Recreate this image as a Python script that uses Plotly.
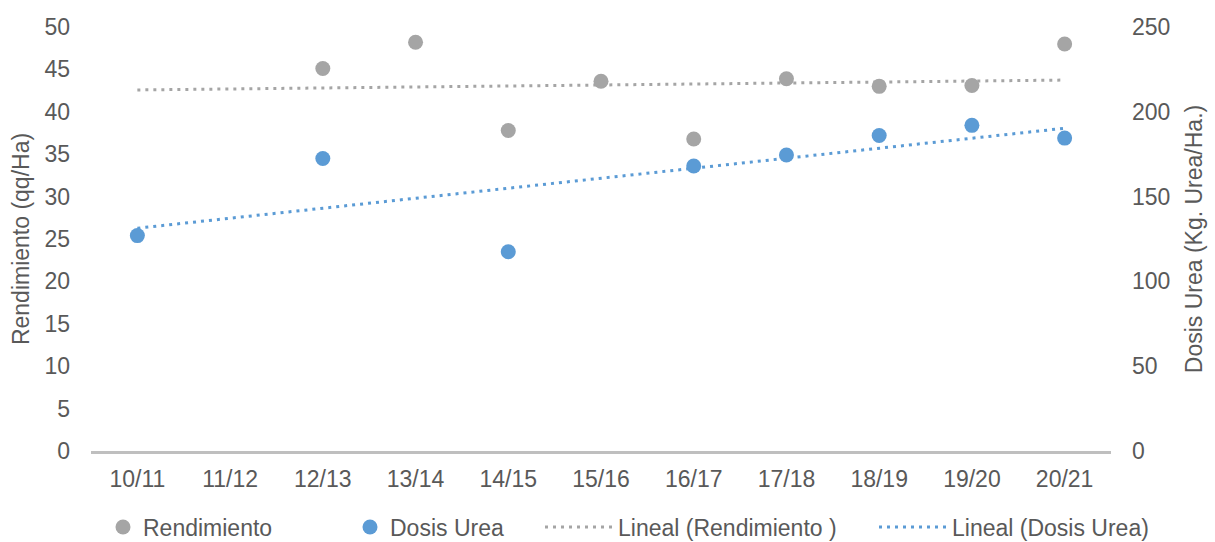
import numpy as np
import plotly.graph_objects as go

# ---- data ----
categorias = ["10/11", "11/12", "12/13", "13/14", "14/15", "15/16",
              "16/17", "17/18", "18/19", "19/20", "20/21"]
rendimiento = [None, None, 45.1, 48.2, 37.8, 43.6, 36.8, 43.9, 43.0, 43.1, 48.0]   # qq/Ha (left axis)
dosis_urea = [127, None, 172.5, None, 117.5, None, 168, 174.5, 186, 192, 184.5]    # Kg Urea/Ha (right axis)
left_ticks = [0, 5, 10, 15, 20, 25, 30, 35, 40, 45, 50]
right_ticks = [0, 50, 100, 150, 200, 250]

x_idx = list(range(len(categorias)))


def linear_trend(values):
    xs = np.array([i for i, v in zip(x_idx, values) if v is not None], dtype=float)
    ys = np.array([v for v in values if v is not None], dtype=float)
    m, b = np.polyfit(xs, ys, 1)
    xe = np.array([x_idx[0], x_idx[-1]], dtype=float)
    return xe, m * xe + b


GRAY = "#A5A5A5"
BLUE = "#5B9BD5"
TXT = "#595959"
FONT = "Arial, Liberation Sans, sans-serif"
FS = 23

fig = go.Figure()

tx_r, ty_r = linear_trend(rendimiento)
tx_d, ty_d = linear_trend(dosis_urea)

fig.add_trace(go.Scatter(x=tx_r, y=ty_r, mode="lines", name="Lineal (Rendimiento )",
                         line=dict(color=GRAY, width=3, dash="3px,5px"),
                         legend="legend3", yaxis="y"))
fig.add_trace(go.Scatter(x=tx_d, y=ty_d, mode="lines", name="Lineal (Dosis Urea)",
                         line=dict(color=BLUE, width=3, dash="3px,5px"),
                         legend="legend4", yaxis="y2"))
fig.add_trace(go.Scatter(x=x_idx, y=rendimiento, mode="markers", name="Rendimiento",
                         marker=dict(color=GRAY, size=15), legend="legend", yaxis="y"))
fig.add_trace(go.Scatter(x=x_idx, y=dosis_urea, mode="markers", name="Dosis Urea",
                         marker=dict(color=BLUE, size=15), legend="legend2", yaxis="y2"))

L, R, T, B = 91, 104, 27, 91
W, H = 1215, 542
pw, ph = W - L - R, H - T - B


def px_x(px):
    return (px - L) / pw


def px_y(py):
    return (H - B - py) / ph


leg_common = dict(orientation="h", yanchor="middle", xanchor="left",
                  bgcolor="rgba(0,0,0,0)", font=dict(family=FONT, size=FS, color=TXT),
                  tracegroupgap=0)

fig.update_layout(
    width=W, height=H,
    margin=dict(l=L, r=R, t=T, b=B, pad=0, autoexpand=False),
    paper_bgcolor="white", plot_bgcolor="white",
    font=dict(family=FONT, size=FS, color=TXT),
    xaxis=dict(range=[-0.5, len(categorias) - 0.5], tickmode="array", tickvals=x_idx,
               ticktext=categorias, showgrid=False, zeroline=False, showline=True,
               linecolor="#BFBFBF", linewidth=3, ticks="", ticklabelstandoff=5,
               tickfont=dict(family=FONT, size=FS, color=TXT)),
    yaxis=dict(range=[0, 50], tickmode="array", tickvals=left_ticks, showgrid=False,
               zeroline=False, showline=False, ticks="", ticklabelstandoff=20,
               title=dict(text="Rendimiento (qq/Ha)", standoff=8,
                          font=dict(family=FONT, size=FS, color=TXT)),
               tickfont=dict(family=FONT, size=FS, color=TXT)),
    yaxis2=dict(range=[0, 250], tickmode="array", tickvals=right_ticks, overlaying="y",
                side="right", showgrid=False, zeroline=False, showline=False, ticks="",
                ticklabelstandoff=20,
                title=dict(text="Dosis Urea (Kg. Urea/Ha.)", standoff=16,
                           font=dict(family=FONT, size=FS, color=TXT)),
                tickfont=dict(family=FONT, size=FS, color=TXT)),
    legend=dict(x=px_x(103), y=px_y(527), itemwidth=30, **leg_common),
    legend2=dict(x=px_x(350), y=px_y(527), itemwidth=30, **leg_common),
    legend3=dict(x=px_x(540), y=px_y(527), itemwidth=68, **leg_common),
    legend4=dict(x=px_x(874), y=px_y(527), itemwidth=68, **leg_common),
    showlegend=True,
)

fig.write_html("out.html")
